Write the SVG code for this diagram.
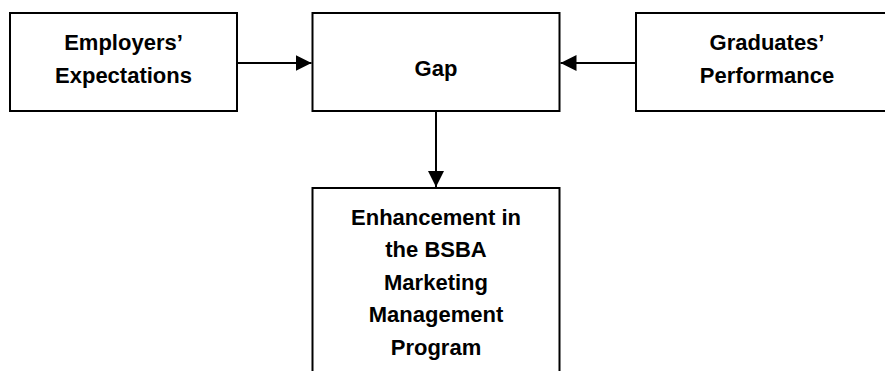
<svg xmlns="http://www.w3.org/2000/svg" width="885" height="371" viewBox="0 0 885 371">
<style>
.box{fill:#fff;stroke:#000;stroke-width:2}
.t{font-family:"Liberation Sans",Arial,sans-serif;font-weight:bold;font-size:22px;fill:#000;text-anchor:middle}
.c{stroke:#000;stroke-width:2;fill:none}
</style>
<defs>
<marker id="ah" markerUnits="userSpaceOnUse" markerWidth="16" markerHeight="18" viewBox="0 0 16 18" refX="16" refY="9" orient="auto">
<path d="M0,1 L16,9 L0,17 Z" fill="#000"/>
</marker>
</defs>
<rect width="885" height="371" fill="#fff"/>
<g id="employers">
<rect class="box" x="10" y="13" width="227" height="98"/>
<text class="t" x="123.5" y="50">Employers’</text>
<text class="t" x="123.5" y="83">Expectations</text>
</g>
<g id="gap">
<rect class="box" x="312.5" y="13" width="247" height="98"/>
<text class="t" x="436" y="76">Gap</text>
</g>
<g id="graduates">
<rect class="box" x="636" y="13" width="260" height="98"/>
<text class="t" x="767" y="50">Graduates’</text>
<text class="t" x="767" y="83">Performance</text>
</g>
<g id="enhancement">
<path class="box" d="M312.5,380 L312.5,188 L559.5,188 L559.5,380"/>
<text class="t" x="436" y="224.5">Enhancement in</text>
<text class="t" x="436" y="257">the BSBA</text>
<text class="t" x="436" y="289.5">Marketing</text>
<text class="t" x="436" y="322">Management</text>
<text class="t" x="436" y="355">Program</text>
</g>
<g id="connectors">
<line class="c" x1="237" y1="63" x2="311.5" y2="63" marker-end="url(#ah)"/>
<line class="c" x1="636" y1="63" x2="560.5" y2="63" marker-end="url(#ah)"/>
<line class="c" x1="436" y1="111" x2="436" y2="187" marker-end="url(#ah)"/>
</g>
</svg>
